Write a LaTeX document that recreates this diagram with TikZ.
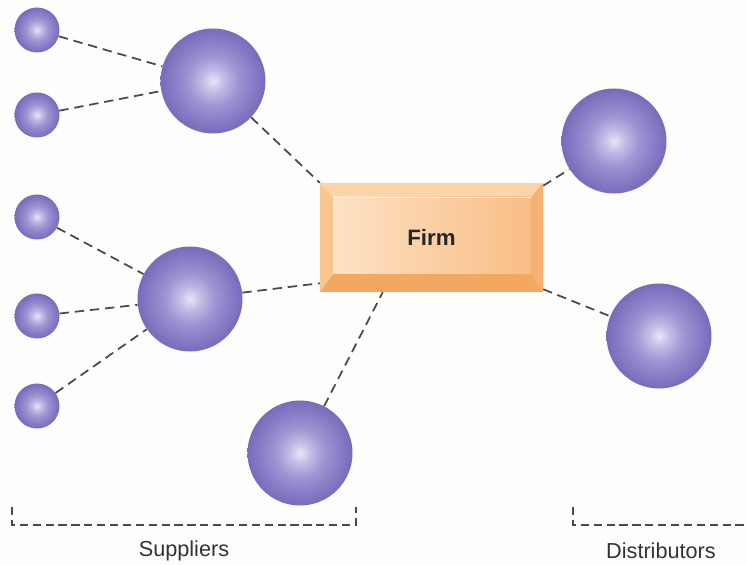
\documentclass[tikz,border=0pt]{standalone}
\usepackage{fontspec}
\setmainfont{Liberation Sans}
\usetikzlibrary{calc}
\definecolor{sphC}{HTML}{E9E5F4}
\definecolor{sphA}{HTML}{C5BCE6}
\definecolor{sphM}{HTML}{9F93D3}
\definecolor{sphB}{HTML}{8779C4}
\definecolor{sphE}{HTML}{7A6BBB}
\definecolor{bg}{HTML}{FDFDFB}
\definecolor{linecol}{HTML}{4A4A4A}
\definecolor{bevTop}{HTML}{FBD4A9}
\definecolor{bevLeft}{HTML}{F9C590}
\definecolor{bevRight}{HTML}{F6B275}
\definecolor{bevBot}{HTML}{F3A862}
\definecolor{faceL}{HTML}{FDE2C4}
\definecolor{faceR}{HTML}{F8BD85}
\pgfdeclareradialshading{sphere}{\pgfpoint{0bp}{0bp}}{%
  color(0bp)=(sphC); color(5bp)=(sphA); color(12bp)=(sphM); color(20bp)=(sphB); color(25bp)=(sphE); color(50bp)=(sphE)}
\tikzset{
  ball/.style={circle, inner sep=0pt, shading=sphere},
  smallball/.style={ball, minimum size=1.35cm},
  bigball/.style={ball, minimum size=3.15cm},
  link/.style={draw=linecol, line width=1.5pt, dash pattern=on 8pt off 5pt},
  bracket/.style={draw=linecol, line width=0.9pt, dash pattern=on 7pt off 4pt},
  lbl/.style={font=\fontsize{18.5}{22}\selectfont, text=black!80},
  firmbox/.style={rectangle, inner sep=0pt, minimum width=6.69cm, minimum height=3.27cm}
}
\begin{document}
\begin{tikzpicture}[x=0.03cm, y=-0.03cm]
\useasboundingbox[fill=bg] (0,0) rectangle (746,565);
% Firm box with bevels
\fill[bevTop] (320,183) -- (543,183) -- (531,197) -- (333,197) -- cycle;
\fill[bevLeft] (320,183) -- (333,197) -- (333,274) -- (320,292) -- cycle;
\fill[bevRight] (543,183) -- (543,292) -- (531,274) -- (531,197) -- cycle;
\fill[bevBot] (320,292) -- (333,274) -- (531,274) -- (543,292) -- cycle;
\shade[left color=faceL, right color=faceR] (333,197) rectangle (531,274);
\draw[white!70!bevTop, line width=0.6pt] (333,197) -- (531,197);
\node[firmbox] (firm) at (431.5,237.5) {\fontsize{19}{22}\selectfont\bfseries\color{black!85}Firm};
% balls
\node[smallball] (s1) at (37,30) {};
\node[smallball] (s2) at (37,115) {};
\node[smallball] (s3) at (37,217) {};
\node[smallball] (s4) at (37,316) {};
\node[smallball] (s5) at (37,406) {};
\node[bigball] (b1) at (213,81) {};
\node[bigball] (b2) at (190,299) {};
\node[bigball] (b3) at (300,453) {};
\node[bigball] (d1) at (614,141) {};
\node[bigball] (d2) at (659,336) {};
% firm attachment points
\coordinate (fB2) at ($(firm.south west)+(0,-9)$);
\coordinate (fB3) at ($(firm.south west)+(63,0)$);
\coordinate (fD1) at ($(firm.north east)+(0,3)$);
\coordinate (fD2) at ($(firm.south east)+(0,-3)$);
% connectors
\draw[link] (s1) -- (b1);
\draw[link] (s2) -- (b1);
\draw[link] (s3) -- (b2);
\draw[link] (s4) -- (b2);
\draw[link] (s5) -- (b2);
\draw[link] (b1) -- (firm.north west);
\draw[link] (b2) -- (fB2);
\draw[link] (b3) -- (fB3);
\draw[link] (fD1) -- (d1);
\draw[link] (fD2) -- (d2);
% brackets
\coordinate (sa) at (12,507);
\coordinate (sb) at (12,525);
\coordinate (sc) at (356,525);
\coordinate (sd) at (356,507);
\draw[bracket] (sa) -- (sb) -- (sc) -- (sd);
\coordinate (da) at (573,507);
\coordinate (db) at (573,525);
\coordinate (dc) at (746,525);
\draw[bracket] (da) -- (db) -- (dc);
\node[lbl] (suppliers) at (184,551) {Suppliers};
\node[lbl] (distributors) at (661,551) {Distributors};
\end{tikzpicture}
\end{document}
